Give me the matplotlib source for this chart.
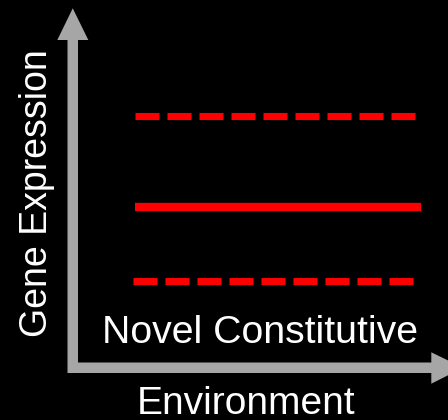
import matplotlib
matplotlib.use("Agg")
import matplotlib.pyplot as plt
from matplotlib.patches import Polygon

plt.rcParams['font.family'] = ['Liberation Sans', 'DejaVu Sans']
plt.rcParams['lines.scale_dashes'] = False

# Data (arbitrary units: environment 0-100, expression 0-100)
series_names = ["upper", "constitutive", "lower"]
expression_levels = [70.4, 45.4, 25.0]
env_start = [17.9, 17.9, 17.2]
env_end = [91.4, 92.8, 90.7]
line_styles = ["dashed", "solid", "dashed"]
label_text = "Novel Constitutive"
xlabel_text = "Environment"
ylabel_text = "Gene Expression"

W, H = 448, 420
fig = plt.figure(figsize=(W / 100, H / 100), dpi=100, facecolor="black")

# overlay pixel-coordinate axes for arrows & text
ov = fig.add_axes([0, 0, 1, 1])
ov.set_xlim(0, W)
ov.set_ylim(H, 0)
ov.axis("off")
ov.set_facecolor("black")

grey = "#a6a6a6"
x0, x1 = 67.5, 78.0      # vertical shaft
y0, y1 = 362.5, 373.0    # horizontal shaft
arrow_pts = [
    (x0, y1), (x0, 40.0), (57.3, 40.0), ((x0 + x1) / 2, 8.3), (88.3, 40.0), (x1, 40.0),
    (x1, y0), (431.3, y0), (431.3, 352.3), (463.0, (y0 + y1) / 2), (431.3, 383.7), (431.3, y1),
]
ov.add_patch(Polygon(arrow_pts, closed=True, facecolor=grey, edgecolor="none", zorder=1))

ov.text(260, 343.3, label_text, color="white", fontsize=28.3, ha="center", va="baseline", zorder=3)
ov.text(245.7, 414.3, xlabel_text, color="white", fontsize=28, ha="center", va="baseline", zorder=3)
ov.text(47.5, 193, ylabel_text, color="white", fontsize=27, ha="center", va="baseline",
        rotation=90, rotation_mode="anchor", zorder=3)

# data axes
left = 67 / W
bottom = (H - 372) / H
ax = fig.add_axes([left, bottom, (W - 67) / W, 364 / H])
ax.set_xlim(0, 100)
ax.set_ylim(0, 100)
ax.axis("off")
ax.patch.set_alpha(0)

for name, lvl, xs, xe, ls in zip(series_names, expression_levels, env_start, env_end, line_styles):
    if ls == "dashed":
        ax.plot([xs, xe], [lvl, lvl], color="#ff0000", lw=5.1, solid_capstyle="butt",
                dash_capstyle="butt", dashes=(17.28, 5.76))
    else:
        ax.plot([xs, xe], [lvl, lvl], color="#ff0000", lw=6.0, solid_capstyle="butt")

fig.savefig("out.png", dpi=100, facecolor="black")
